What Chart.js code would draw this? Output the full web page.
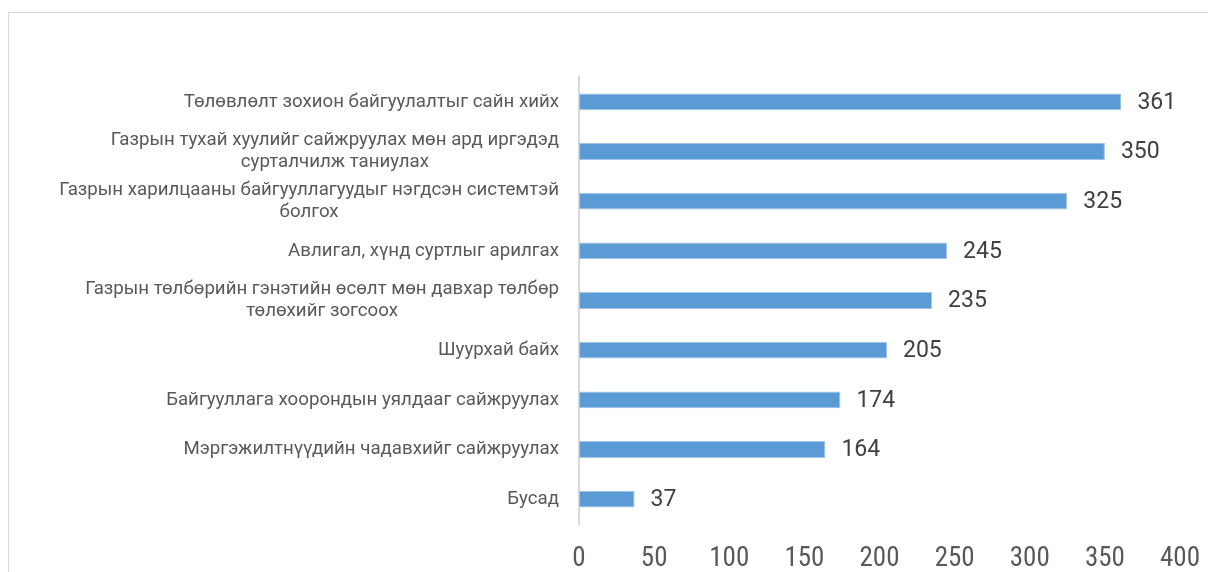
<!DOCTYPE html>
<html>
<head>
<meta charset="utf-8">
<script src="https://cdn.jsdelivr.net/npm/chart.js@4/dist/chart.umd.min.js"></script>
<style>
  html, body { margin: 0; padding: 0; background: #ffffff; overflow: hidden; }
  #frame { position: absolute; left: 8px; top: 12px; width: 1400px; height: 800px; border: 1px solid #d9d9d9; box-sizing: border-box; }
  #c { position: absolute; left: 0; top: 0; }
</style>
</head>
<body>
<div id="frame"></div>
<canvas id="c" width="1208" height="572"></canvas>
<script>
// ---- data ----
const categories = [
  ["Төлөвлөлт зохион байгуулалтыг сайн хийх"],
  ["Газрын тухай хуулийг сайжруулах мөн ард иргэдэд", "сурталчилж таниулах"],
  ["Газрын харилцааны байгууллагуудыг нэгдсэн системтэй", "болгох"],
  ["Авлигал, хүнд суртлыг арилгах"],
  ["Газрын төлбөрийн гэнэтийн өсөлт мөн давхар төлбөр", "төлөхийг зогсоох"],
  ["Шуурхай байх"],
  ["Байгууллага хоорондын уялдааг сайжруулах"],
  ["Мэргэжилтнүүдийн чадавхийг сайжруулах"],
  ["Бусад"]
];
const values = [361, 350, 325, 245, 235, 205, 174, 164, 37];
const xMin = 0;
const xMax = 400;
const xStep = 50;

// ---- plugins ----
const categoryLabels = {
  id: 'categoryLabels',
  afterDraw(chart) {
    const ctx = chart.ctx;
    const y = chart.scales.y;
    const rightEdge = 559;
    const lineH = 22;
    ctx.save();
    ctx.font = '18.7px Roboto, "Noto Sans", sans-serif';
    ctx.fillStyle = '#595959';
    ctx.textBaseline = 'middle';
    ctx.textAlign = 'center';
    categories.forEach((lines, i) => {
      const py = y.getPixelForTick(i);
      let maxW = 0;
      lines.forEach(l => { maxW = Math.max(maxW, ctx.measureText(l).width); });
      const cx = rightEdge - maxW / 2;
      const startY = py - (lines.length - 1) * lineH / 2;
      lines.forEach((l, k) => ctx.fillText(l, cx, startY + k * lineH));
    });
    ctx.restore();
  }
};

const valueLabels = {
  id: 'valueLabels',
  afterDatasetsDraw(chart) {
    const ctx = chart.ctx;
    const meta = chart.getDatasetMeta(0);
    ctx.save();
    ctx.font = '23px Roboto, "Noto Sans", sans-serif';
    ctx.fillStyle = '#404040';
    ctx.textBaseline = 'middle';
    ctx.textAlign = 'left';
    meta.data.forEach((bar, i) => {
      ctx.fillText(String(chart.data.datasets[0].data[i]), bar.x + 16, bar.y + 1);
    });
    ctx.restore();
  }
};

new Chart(document.getElementById('c'), {
  type: 'bar',
  data: {
    labels: categories,
    datasets: [{
      data: values,
      backgroundColor: '#5b9bd5',
      borderColor: '#a3c6ea',
      borderWidth: 1,
      borderSkipped: false,
      barPercentage: 0.34,
      categoryPercentage: 1.0
    }]
  },
  options: {
    indexAxis: 'y',
    responsive: false,
    animation: false,
    events: [],
    layout: { padding: { left: 579, top: 77, right: 28, bottom: 0 } },
    plugins: { legend: { display: false }, tooltip: { enabled: false } },
    scales: {
      x: {
        min: xMin, max: xMax,
        grid: { display: false, drawTicks: false },
        border: { display: false },
        ticks: {
          stepSize: xStep,
          padding: 19,
          color: '#595959',
          font: { family: '"Liberation Sans Narrow", "Roboto Condensed", Roboto, sans-serif', size: 27 }
        },
        afterFit(scale) { scale.height = 48; scale.paddingLeft = 0; scale.paddingRight = 0; }
      },
      y: {
        grid: { display: false, drawTicks: false },
        border: { display: true, color: '#d9d9d9', width: 2 },
        ticks: { display: false },
        afterFit(scale) { scale.width = 0; scale.paddingTop = 0; scale.paddingBottom = 0; }
      }
    }
  },
  plugins: [categoryLabels, valueLabels]
});
</script>
</body>
</html>
